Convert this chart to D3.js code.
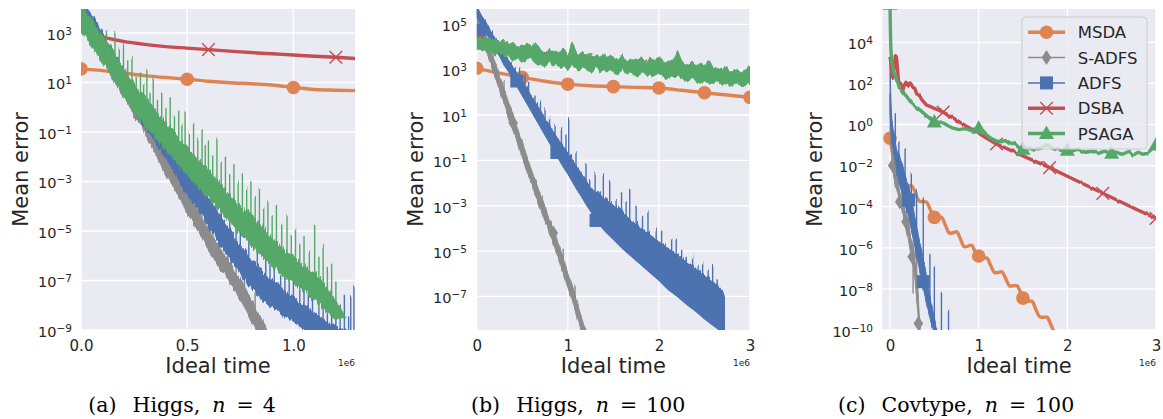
<!DOCTYPE html>
<html><head><meta charset="utf-8">
<script src="https://cdn.jsdelivr.net/npm/d3@7"></script>
<style>body{margin:0;background:#fff}svg{display:block}</style>
</head><body>
<svg id="chart" width="1163" height="419"></svg>
<script>
// ---------------- DATA (time in units of 1e6, error as log10) ----------------
const seriesNames = ["MSDA", "S-ADFS", "ADFS", "DSBA", "PSAGA"];

// ---- Panel (a) Higgs, n = 4 ----
const xTicksA = [0, 0.5, 1.0];
const xTickLabelsA = ["0.0", "0.5", "1.0"];
const yTickExpA = [3, 1, -1, -3, -5, -7, -9];
const msdaA = [[0,1.55],[0.1,1.48],[0.2,1.38],[0.3,1.28],[0.4,1.2],[0.5,1.13],[0.6,1.05],[0.7,0.99],[0.8,0.95],[0.9,0.9],[1.0,0.8],[1.1,0.72],[1.2,0.69],[1.29,0.67]];
const msdaMarksA = [[0,1.55],[0.5,1.13],[1.0,0.8]];
const dsbaA = [[0,3.3],[0.05,2.98],[0.1,2.84],[0.2,2.66],[0.3,2.54],[0.4,2.45],[0.5,2.39],[0.6,2.33],[0.7,2.27],[0.8,2.21],[0.9,2.16],[1.0,2.11],[1.1,2.06],[1.2,2.02],[1.29,1.97]];
const dsbaMarksA = [[0.6,2.33],[1.2,2.02]];
// noisy series: [time, low, high]
const sadfsA = [[0,3.5,4.3],[0.025,3.2,3.9],[0.05,2.8,3.5],[0.075,2.4,3.1],[0.1,1.9,2.8],[0.125,1.6,2.3],[0.15,1.1,2.0],[0.175,0.8,1.5],[0.2,0.4,1.3],[0.225,0.1,0.8],[0.25,-0.4,0.5],[0.275,-0.6,0.1],[0.3,-1.0,-0.1],[0.325,-1.5,-0.6],[0.35,-1.9,-1.0],[0.375,-2.3,-1.5],[0.4,-2.8,-1.9],[0.425,-3.0,-2.3],[0.45,-3.5,-2.6],[0.475,-3.8,-3.1],[0.5,-4.3,-3.4],[0.525,-4.6,-3.8],[0.55,-5.0,-4.1],[0.575,-5.3,-4.6],[0.6,-5.8,-4.9],[0.625,-6.1,-5.3],[0.65,-6.5,-5.6],[0.675,-6.7,-6.0],[0.7,-7.1,-6.2],[0.725,-7.4,-6.7],[0.75,-7.8,-6.9],[0.775,-8.2,-7.4],[0.8,-8.6,-7.7],[0.825,-9.0,-8.2],[0.85,-9.5,-8.5],[0.875,-9.9,-9.0]];
const sadfsSpikesA = [[0.21,1.6],[0.27,0.6],[0.33,-0.3],[0.39,-1.2],[0.44,-1.9],[0.48,-2.4],[0.52,-2.9],[0.57,-3.7],[0.61,-4.2],[0.65,-4.9],[0.69,-5.4],[0.73,-6.0],[0.77,-6.5],[0.82,-7.5]];
const sadfsMarksA = [[0.44,-3.0],[0.62,-5.6],[0.8,-8.1]];
const adfsA = [[0,3.6,4.4],[0.025,3.2,4.1],[0.05,2.9,3.7],[0.075,2.5,3.4],[0.1,2.1,3.0],[0.125,1.8,2.6],[0.15,1.4,2.3],[0.175,1.0,1.9],[0.2,0.6,1.5],[0.225,0.3,1.2],[0.25,-0.1,0.8],[0.275,-0.5,0.4],[0.3,-0.8,0.1],[0.325,-1.1,-0.3],[0.35,-1.4,-0.5],[0.375,-1.8,-0.9],[0.4,-2.1,-1.1],[0.425,-2.4,-1.5],[0.45,-2.8,-1.7],[0.475,-3.2,-2.1],[0.5,-3.5,-2.3],[0.525,-3.8,-2.8],[0.55,-4.1,-3.0],[0.575,-4.4,-3.4],[0.6,-4.8,-3.6],[0.625,-5.1,-4.0],[0.65,-5.5,-4.3],[0.675,-5.8,-4.6],[0.7,-6.1,-4.9],[0.725,-6.4,-5.3],[0.75,-6.7,-5.6],[0.775,-7.0,-5.8],[0.8,-7.3,-6.2],[0.825,-7.5,-6.3],[0.85,-7.8,-6.6],[0.875,-7.9,-6.8],[0.9,-8.1,-7.0],[0.925,-8.2,-7.1],[0.95,-8.4,-7.3],[0.975,-8.5,-7.6],[1.0,-8.7,-7.7],[1.025,-8.8,-7.9],[1.05,-9.0,-8.0],[1.075,-9.1,-8.2],[1.1,-9.2,-8.3],[1.125,-9.3,-8.5],[1.15,-9.4,-8.6],[1.175,-9.5,-8.8],[1.2,-9.6,-8.8],[1.225,-9.7,-9.0],[1.25,-9.7,-9.0],[1.275,-9.8,-9.1],[1.3,-9.8,-9.1]];
const adfsSpikesA = [[0.35,-0.1],[0.4,-0.6],[0.45,-1.2],[0.5,-1.7],[0.55,-2.4],[0.585,-2.6],[0.62,-3.3],[0.66,-3.6],[0.7,-4.2],[0.73,-4.4],[0.75,-4.8],[0.79,-5.0],[0.83,-5.6],[0.87,-5.9],[0.89,-6.3],[0.91,-6.1],[0.94,-6.7],[0.96,-6.4],[0.98,-7.0],[1.0,-6.6],[1.03,-7.3],[1.05,-6.9],[1.07,-7.6],[1.09,-7.2],[1.12,-7.9],[1.14,-7.4],[1.16,-8.2],[1.18,-7.9],[1.2,-8.3],[1.22,-8.0],[1.24,-7.5],[1.26,-8.4],[1.27,-7.6],[1.285,-7.3]];
const adfsMarksA = [[0.505,-2.9],[0.68,-5.4],[0.855,-7.3],[1.03,-8.3]];
const psagaA = [[0,3.1,4.2],[0.025,2.9,3.8],[0.05,2.5,3.6],[0.075,2.2,3.2],[0.1,1.8,2.9],[0.125,1.6,2.5],[0.15,1.1,2.3],[0.175,0.9,1.9],[0.2,0.4,1.6],[0.225,0.2,1.2],[0.25,-0.2,1.0],[0.275,-0.4,0.6],[0.3,-0.7,0.5],[0.325,-1.0,0.1],[0.35,-1.2,-0.1],[0.375,-1.5,-0.4],[0.4,-1.7,-0.6],[0.425,-2.0,-0.9],[0.45,-2.2,-1.1],[0.475,-2.5,-1.4],[0.5,-2.7,-1.6],[0.525,-3.0,-1.9],[0.55,-3.2,-2.1],[0.575,-3.5,-2.3],[0.6,-3.6,-2.5],[0.625,-3.9,-2.8],[0.65,-4.1,-3.0],[0.675,-4.4,-3.3],[0.7,-4.6,-3.5],[0.725,-4.9,-3.8],[0.75,-5.1,-4.0],[0.775,-5.3,-4.2],[0.8,-5.6,-4.3],[0.825,-5.8,-4.6],[0.85,-6.0,-4.8],[0.875,-6.2,-5.1],[0.9,-6.4,-5.3],[0.925,-6.6,-5.5],[0.95,-6.8,-5.7],[0.975,-7.0,-5.9],[1.0,-7.1,-6.0],[1.025,-7.3,-6.3],[1.05,-7.4,-6.4],[1.075,-7.6,-6.6],[1.1,-7.8,-6.7],[1.125,-8.0,-6.9],[1.15,-8.2,-7.2],[1.175,-8.4,-7.5],[1.2,-8.6,-7.8],[1.215,-8.5,-8.1]];
const psagaSpikesA = [[0.12,3.1],[0.14,2.6],[0.16,3.0],[0.18,2.3],[0.2,2.5],[0.22,1.9],[0.24,2.0],[0.26,1.3],[0.28,1.4],[0.295,1.0],[0.31,1.5],[0.325,0.6],[0.34,1.2],[0.36,0.3],[0.38,0.6],[0.4,0.0],[0.42,0.4],[0.44,-0.4],[0.46,-0.1],[0.475,-0.7],[0.49,-0.2],[0.51,-1.0],[0.53,-0.7],[0.55,-1.3],[0.57,-0.8],[0.585,-1.6],[0.6,-1.3],[0.62,-1.9],[0.64,-1.3],[0.66,-2.2],[0.68,-2.0],[0.7,-2.7],[0.72,-2.3],[0.74,-3.0],[0.76,-2.7],[0.78,-3.3],[0.8,-3.0],[0.82,-3.7],[0.84,-3.3],[0.86,-4.1],[0.88,-3.8],[0.9,-4.4],[0.92,-3.9],[0.945,-4.7],[0.97,-4.4],[0.99,-5.1],[1.01,-4.9],[1.03,-5.5],[1.05,-5.2],[1.075,-5.8],[1.1,-4.7],[1.12,-6.0],[1.14,-5.6],[1.16,-6.5],[1.18,-6.3],[1.2,-7.0]];
const psagaMarksA = [[0.6,-3.05],[1.215,-8.3]];

// ---- Panel (b) Higgs, n = 100 ----
const xTicksB = [0, 1, 2, 3];
const xTickLabelsB = ["0", "1", "2", "3"];
const yTickExpB = [5, 3, 1, -1, -3, -5, -7];
const msdaB = [[0,3.06],[0.25,2.85],[0.5,2.66],[0.75,2.49],[1.0,2.36],[1.25,2.29],[1.5,2.25],[1.75,2.22],[2.0,2.19],[2.25,2.09],[2.5,1.98],[2.75,1.88],[3.0,1.78]];
const msdaMarksB = [[0,3.06],[0.5,2.66],[1.0,2.36],[1.5,2.25],[2.0,2.19],[2.5,1.98],[3.0,1.78]];
const dsbaB = [[0,4.45],[0.3,4.1],[0.6,3.79],[0.9,3.6],[1.2,3.43],[1.5,3.29],[1.8,3.16],[2.1,3.04],[2.4,2.91],[2.7,2.77],[3.0,2.6]];
const dsbaMarksB = [[0.6,3.79],[1.2,3.43],[1.8,3.16],[2.4,2.91],[3.0,2.6]];
const sadfsB = [[0,5.1,5.8],[0.025,4.8,5.5],[0.05,4.6,5.2],[0.075,4.2,4.9],[0.1,3.9,4.5],[0.125,3.6,4.3],[0.15,3.3,3.9],[0.175,3.0,3.7],[0.2,2.7,3.3],[0.225,2.4,3.1],[0.25,2.1,2.7],[0.275,1.8,2.5],[0.3,1.5,2.1],[0.325,1.2,1.9],[0.35,0.9,1.6],[0.375,0.6,1.3],[0.4,0.3,1.0],[0.425,0.0,0.6],[0.45,-0.3,0.4],[0.475,-0.6,0.0],[0.5,-0.9,-0.2],[0.525,-1.2,-0.5],[0.55,-1.5,-0.8],[0.575,-1.7,-1.1],[0.6,-2.0,-1.4],[0.625,-2.3,-1.7],[0.65,-2.6,-1.9],[0.675,-2.9,-2.2],[0.7,-3.1,-2.5],[0.725,-3.4,-2.8],[0.75,-3.7,-3.0],[0.775,-3.9,-3.3],[0.8,-4.2,-3.6],[0.825,-4.5,-3.8],[0.85,-4.8,-4.1],[0.875,-5.1,-4.4],[0.9,-5.3,-4.7],[0.925,-5.7,-5.0],[0.95,-6.0,-5.3],[0.975,-6.3,-5.6],[1.0,-6.6,-6.0],[1.025,-6.9,-6.2],[1.05,-7.2,-6.6],[1.075,-7.6,-6.9],[1.1,-7.9,-7.2],[1.125,-8.2,-7.6],[1.15,-8.5,-7.9],[1.175,-8.8,-8.2],[1.2,-9.1,-8.5],[1.225,-9.4,-8.8]];
const sadfsSpikesB = [[0.3,2.5],[0.55,-0.9],[0.72,-2.5],[0.95,-4.9],[1.08,-6.5]];
const sadfsMarksB = [[0.4,0.65],[0.84,-4.2]];
const adfsB = [[0,5.3,5.8],[0.05,5.0,5.4],[0.1,4.6,5.1],[0.15,4.3,4.7],[0.2,3.9,4.4],[0.25,3.6,4.0],[0.3,3.2,3.7],[0.35,2.9,3.4],[0.4,2.55,3.1],[0.45,2.2,2.8],[0.5,1.85,2.5],[0.55,1.5,2.2],[0.6,1.15,1.8],[0.65,0.8,1.5],[0.7,0.45,1.2],[0.75,0.1,0.8],[0.8,-0.25,0.5],[0.85,-0.6,0.2],[0.9,-0.95,-0.1],[0.95,-1.3,-0.4],[1.0,-1.6,-0.7],[1.05,-1.95,-1.0],[1.1,-2.3,-1.3],[1.15,-2.6,-1.6],[1.2,-2.95,-1.9],[1.25,-3.25,-2.2],[1.3,-3.6,-2.4],[1.35,-3.85,-2.5],[1.4,-4.1,-2.7],[1.5,-4.5,-3.0],[1.6,-4.9,-3.3],[1.7,-5.25,-3.7],[1.8,-5.6,-4.0],[1.9,-5.95,-4.3],[2.0,-6.3,-4.6],[2.1,-6.7,-4.9],[2.2,-7.0,-5.2],[2.3,-7.35,-5.5],[2.4,-7.65,-5.8],[2.5,-8.0,-6.1],[2.6,-8.3,-6.4],[2.7,-8.6,-6.8],[2.72,-8.65,-7.0]];
const adfsSpikesB = [[0.47,3.1],[0.53,2.8],[0.57,2.5],[0.64,1.9],[0.7,1.6],[0.75,1.3],[0.8,0.9],[0.86,0.6],[0.93,0.5],[0.98,0.1],[1.01,0.9],[1.04,-0.77],[1.09,-0.6],[1.15,-1.7],[1.2,-1.2],[1.24,-1.87],[1.3,-1.5],[1.39,-1.57],[1.46,-1.87],[1.53,-2.75],[1.59,-2.45],[1.64,-2.8],[1.68,-2.3],[1.75,-3.05],[1.82,-3.4],[1.88,-3.3],[1.97,-4.0],[2.03,-4.1],[2.08,-4.73],[2.14,-4.4],[2.19,-4.5],[2.25,-4.9],[2.3,-5.25],[2.37,-5.25],[2.43,-5.6],[2.48,-5.54],[2.54,-5.9],[2.59,-5.7],[2.64,-6.3],[2.68,-6.7],[2.71,-6.9]];
const adfsMarksB = [[0.03,4.75],[0.44,2.5],[0.88,-0.65],[1.31,-3.65],[1.75,-4.6],[2.19,-6.0],[2.63,-7.3]];
const psagaB = [[0,3.9,4.5],[0.05,3.9,4.4],[0.1,3.8,4.4],[0.15,3.8,4.3],[0.2,3.7,4.4],[0.25,3.7,4.2],[0.3,3.6,4.3],[0.35,3.6,4.1],[0.4,3.4,4.2],[0.45,3.5,4.0],[0.5,3.3,4.1],[0.55,3.4,4.1],[0.6,3.4,3.9],[0.65,3.3,4.2],[0.7,3.2,3.9],[0.75,3.2,3.8],[0.8,3.3,3.9],[0.85,3.1,3.7],[0.9,3.2,3.8],[0.95,3.1,3.9],[1.0,3.0,3.7],[1.05,3.2,4.2],[1.1,3.0,3.7],[1.15,3.1,3.8],[1.2,3.0,3.6],[1.25,2.9,3.7],[1.3,3.1,3.6],[1.35,2.9,3.6],[1.4,3.0,3.7],[1.45,2.9,3.5],[1.5,2.9,3.6],[1.55,2.8,3.5],[1.6,3.0,3.6],[1.65,2.8,3.4],[1.7,2.9,3.5],[1.75,2.7,3.4],[1.8,2.8,3.5],[1.85,2.8,3.3],[1.9,2.8,3.6],[1.95,2.7,3.4],[2.0,2.8,3.5],[2.05,2.7,3.3],[2.1,2.6,3.4],[2.15,2.7,3.3],[2.2,2.7,3.8],[2.25,2.6,3.3],[2.3,2.5,3.2],[2.35,2.6,3.3],[2.4,2.5,3.1],[2.45,2.4,3.3],[2.5,2.5,3.2],[2.55,2.4,3.4],[2.6,2.4,3.0],[2.65,2.5,3.1],[2.7,2.3,3.0],[2.75,2.4,3.1],[2.8,2.3,2.9],[2.85,2.4,3.0],[2.9,2.3,2.9],[2.95,2.3,3.0],[3.0,2.35,3.1]];
const psagaSpikesB = [];
const psagaMarksB = [];

// ---- Panel (c) Covtype, n = 100 ----
const xTicksC = [0, 1, 2, 3];
const xTickLabelsC = ["0", "1", "2", "3"];
const yTickExpC = [4, 2, 0, -2, -4, -6, -8, -10];
const msdaC = [[0,-0.67],[0.02,-1.2],[0.04,-1.75],[0.056,-2.05],[0.08,-2.3],[0.11,-2.5],[0.15,-2.78],[0.2,-3.0],[0.2425,-2.98],[0.285,-3.3],[0.3275,-3.72],[0.37,-3.75],[0.4125,-3.78],[0.455,-4.15],[0.4975,-4.52],[0.54,-4.53],[0.5825,-4.52],[0.625,-4.9],[0.6675,-5.28],[0.71,-5.27],[0.7525,-5.22],[0.795,-5.58],[0.8375,-5.95],[0.88,-5.92],[0.9225,-5.88],[0.965,-6.25],[1.0075,-6.45],[1.05,-6.5],[1.0925,-6.5],[1.135,-6.85],[1.1775,-7.2],[1.22,-7.2],[1.2625,-7.17],[1.305,-7.5],[1.3475,-7.85],[1.39,-7.85],[1.4325,-7.85],[1.475,-8.2],[1.5175,-8.55],[1.56,-8.6],[1.6025,-8.6],[1.645,-9.0],[1.6875,-9.35],[1.73,-9.38],[1.7725,-9.38],[1.815,-9.75],[1.8575,-10.1],[1.9,-10.15],[1.95,-10.4]];
const msdaMarksC = [[0,-0.67],[0.5,-4.52],[1.0,-6.4],[1.5,-8.45]];
const sadfsC = [[0,-0.5,1.5],[0.015,-1.3,-0.4],[0.03,-2.3,-1.6],[0.045,-2.6,-1.9],[0.06,-3.0,-2.1],[0.075,-3.1,-2.4],[0.09,-3.4,-2.8],[0.11,-4.0,-3.3],[0.13,-4.1,-3.5],[0.15,-4.5,-3.8],[0.17,-4.8,-4.1],[0.185,-5.2,-4.3],[0.2,-5.4,-4.8],[0.215,-5.8,-4.9],[0.23,-6.2,-5.5],[0.25,-6.7,-5.7],[0.265,-7.0,-5.9],[0.28,-7.6,-6.6],[0.295,-8.2,-7.0],[0.31,-8.9,-7.6],[0.32,-9.5,-8.5],[0.33,-10.2,-9.2],[0.34,-10.6,-9.8]];
const sadfsSpikesC = [[0.05,-1.4],[0.14,-2.9],[0.26,-8.3],[0.3,-6.2]];
const sadfsMarksC = [[0.03,-2.0],[0.11,-3.76],[0.18,-4.73],[0.25,-6.43],[0.32,-9.68]];
const adfsC = [[0,0.5,3.0],[0.01,-0.2,1.2],[0.02,-0.8,0.3],[0.035,-1.2,-0.2],[0.05,-1.6,-0.6],[0.065,-2.0,-0.9],[0.08,-2.4,-1.3],[0.1,-2.8,-1.4],[0.12,-3.1,-1.8],[0.14,-3.4,-1.9],[0.16,-3.7,-2.3],[0.18,-4.1,-2.6],[0.2,-4.3,-2.9],[0.22,-4.7,-3.2],[0.24,-5.1,-3.6],[0.26,-5.5,-4.0],[0.28,-6.0,-4.5],[0.3,-6.4,-4.9],[0.32,-6.8,-5.4],[0.34,-7.3,-5.8],[0.36,-7.7,-6.2],[0.38,-8.1,-6.7],[0.4,-8.5,-7.1],[0.42,-8.9,-7.6],[0.44,-9.2,-8.1],[0.46,-9.6,-8.6],[0.48,-9.9,-9.0],[0.5,-10.2,-9.4],[0.52,-10.5,-9.8],[0.54,-10.8,-10.1]];
const adfsSpikesC = [[0.06,0.5],[0.1,-0.8],[0.17,-1.24],[0.24,-2.3],[0.3,-3.2],[0.375,-3.6],[0.45,-6.3],[0.5,-6.9],[0.58,-8.2],[0.66,-9.0]];
const adfsMarksC = [[0.21,-3.67],[0.375,-7.65]];
const dsbaC = [[0,3.3],[0.015,2.9],[0.03,2.3],[0.045,2.7],[0.06,3.35],[0.075,3.2],[0.09,2.4],[0.105,1.8],[0.12,2.0],[0.14,1.6],[0.16,1.9],[0.18,2.05],[0.2,1.9],[0.22,2.05],[0.24,1.95],[0.26,1.8],[0.28,1.75],[0.3,1.5],[0.32,1.45],[0.34,1.35],[0.36,1.2],[0.38,1.1],[0.41,0.95],[0.45,0.88],[0.5,0.78],[0.55,0.7],[0.6,0.6],[0.7,0.35],[0.8,0.08],[0.9,-0.18],[1.0,-0.43],[1.1,-0.69],[1.2,-0.95],[1.4,-1.33],[1.6,-1.72],[1.8,-2.1],[2.0,-2.52],[2.2,-2.93],[2.4,-3.35],[2.6,-3.76],[2.8,-4.17],[3.0,-4.57]];
const dsbaMarksC = [[0.6,0.6],[1.2,-0.95],[1.8,-2.1],[2.4,-3.35],[3.0,-4.57]];
const psagaC = [[0,5.85],[0.005,4.5],[0.01,3.6],[0.02,3.1],[0.04,2.6],[0.075,2.16],[0.1,1.9],[0.15,1.55],[0.19,1.35],[0.25,1.0],[0.34,0.7],[0.42,0.4],[0.49,0.14],[0.55,0.05],[0.6,0.08],[0.65,-0.05],[0.71,-0.18],[0.78,-0.25],[0.85,-0.2],[0.92,-0.3],[1.0,-0.18],[1.05,-0.3],[1.1,-0.55],[1.15,-0.7],[1.2,-0.8],[1.25,-0.84],[1.3,-0.78],[1.35,-0.95],[1.4,-0.9],[1.47,-1.2],[1.55,-1.1],[1.62,-1.24],[1.7,-1.15],[1.78,-1.0],[1.85,-1.2],[1.92,-1.25],[1.99,-1.24],[2.05,-1.3],[2.12,-1.2],[2.2,-1.35],[2.28,-1.3],[2.35,-1.4],[2.42,-1.3],[2.48,-1.4],[2.55,-1.35],[2.62,-1.45],[2.7,-1.3],[2.74,-1.48],[2.8,-1.35],[2.85,-1.45],[2.9,-1.4],[2.95,-1.2],[2.97,-1.08],[3.0,-1.0]];
const psagaMarksC = [[0,5.85],[0.5,0.12],[1.0,-0.18],[1.5,-1.2],[2.0,-1.25],[2.5,-1.4],[3.0,-1.0]];

const captionsLetter = ["(a)", "(b)", "(c)"];
const captionsName = ["Higgs,", "Higgs,", "Covtype,"];
const captionsN = ["4", "100", "100"];

// ---------------- RENDERING ----------------
const COL = { MSDA: "#DD8452", "S-ADFS": "#8C8C8C", ADFS: "#4C72B0", DSBA: "#C44E52", PSAGA: "#55A868" };
const MARK = { MSDA: "circle", "S-ADFS": "diamond", ADFS: "square", DSBA: "x", PSAGA: "triangle" };
const TXT = "#262626";
const FONT = "DejaVu Sans, Liberation Sans, sans-serif";

const panels = [
  { L: 81, R: 355, T: 9, B: 330, xd: [0, 1.29], yd: [-9, 3.97], xt: xTicksA, xl: xTickLabelsA, yt: yTickExpA, ylabX: 28, tickR: 72, capX: 88.3,
    msda: msdaA, msdaM: msdaMarksA, sadfs: sadfsA, sadfsS: sadfsSpikesA, sadfsM: sadfsMarksA, adfs: adfsA, adfsS: adfsSpikesA, adfsM: adfsMarksA,
    dsba: dsbaA, dsbaM: dsbaMarksA, dsbaCurve: "mono", psagaBand: psagaA, psagaS: psagaSpikesA, psagaM: psagaMarksA,
    nz: { sadfs: [0.55, 8], adfs: [0.55, 10], psaga: [0.6, 11] } },
  { L: 476.7, R: 750, T: 9, B: 330, xd: [0, 3], yd: [-8.48, 5.675], xt: xTicksB, xl: xTickLabelsB, yt: yTickExpB, ylabX: 423, tickR: 467, capX: 471,
    msda: msdaB, msdaM: msdaMarksB, sadfs: sadfsB, sadfsS: sadfsSpikesB, sadfsM: sadfsMarksB, adfs: adfsB, adfsS: adfsSpikesB, adfsM: adfsMarksB,
    dsba: dsbaB, dsbaM: dsbaMarksB, dsbaCurve: "mono", psagaBand: psagaB, psagaS: psagaSpikesB, psagaM: psagaMarksB, fringe: true,
    nz: { sadfs: [0.5, 7], adfs: [0.6, 12], psaga: [0.22, 9] } },
  { L: 882.3, R: 1156, T: 9, B: 330, xd: [-0.087, 3], yd: [-10, 5.62], xt: xTicksC, xl: xTickLabelsC, yt: yTickExpC, ylabX: 821.5, tickR: 873, capX: 838,
    msda: msdaC, msdaM: msdaMarksC, msdaCurve: "catmull", sadfs: sadfsC, sadfsS: sadfsSpikesC, sadfsM: sadfsMarksC, adfs: adfsC, adfsS: adfsSpikesC, adfsM: adfsMarksC,
    dsba: dsbaC, dsbaM: dsbaMarksC, dsbaCurve: "linear", psagaLine: psagaC, psagaM: psagaMarksC, legend: true,
    nz: { sadfs: [0.5, 7], adfs: [0.55, 8], psaga: [0.2, 3], dsba: [0.25, 3] } }
];

const svg = d3.select("#chart");
const defs = svg.append("defs");
let seedN = 1;
function noiseFilter(freqX, scale) {
  const id = "nz" + (seedN++);
  const f = defs.append("filter").attr("id", id).attr("filterUnits", "userSpaceOnUse")
    .attr("x", 0).attr("y", 0).attr("width", 1163).attr("height", 419).attr("color-interpolation-filters", "sRGB");
  f.append("feTurbulence").attr("type", "fractalNoise").attr("baseFrequency", `${freqX} 0.012`).attr("numOctaves", 2).attr("seed", seedN * 7).attr("result", "t");
  f.append("feColorMatrix").attr("in", "t").attr("type", "matrix")
    .attr("values", "0 0 0 0 0.5  0 1 0 0 0  0 0 1 0 0  0 0 0 0 1").attr("result", "m");
  f.append("feDisplacementMap").attr("in", "SourceGraphic").attr("in2", "m").attr("scale", scale)
    .attr("xChannelSelector", "R").attr("yChannelSelector", "G");
  return `url(#${id})`;
}

function drawMarker(g, type, cx, cy, color, s) {
  s = s || 1;
  if (type === "circle") g.append("circle").attr("cx", cx).attr("cy", cy).attr("r", 6.8 * s).attr("fill", color);
  else if (type === "square") g.append("rect").attr("x", cx - 6.5 * s).attr("y", cy - 6.5 * s).attr("width", 13 * s).attr("height", 13 * s).attr("fill", color);
  else if (type === "diamond") g.append("path").attr("d", `M${cx},${cy - 7.5 * s}L${cx + 4.8 * s},${cy}L${cx},${cy + 7.5 * s}L${cx - 4.8 * s},${cy}Z`).attr("fill", color);
  else if (type === "triangle") g.append("path").attr("d", `M${cx},${cy - 8 * s}L${cx + 7.5 * s},${cy + 5.5 * s}L${cx - 7.5 * s},${cy + 5.5 * s}Z`).attr("fill", color);
  else if (type === "x") {
    const a = 6.3 * s;
    g.append("path").attr("d", `M${cx - a},${cy - a}L${cx + a},${cy + a}M${cx - a},${cy + a}L${cx + a},${cy - a}`)
      .attr("stroke", color).attr("stroke-width", 1.4).attr("fill", "none");
  }
}

panels.forEach((p, i) => {
  const g = svg.append("g");
  const x = d3.scaleLinear().domain(p.xd).range([p.L, p.R]);
  const y = d3.scaleLog().domain([Math.pow(10, p.yd[0]), Math.pow(10, p.yd[1])]).range([p.B, p.T]);
  const X = t => x(t), Y = v => y(Math.pow(10, v));

  g.append("rect").attr("x", p.L).attr("y", p.T).attr("width", p.R - p.L).attr("height", p.B - p.T).attr("fill", "#EAEAF2");
  p.xt.forEach(t => g.append("line").attr("x1", X(t)).attr("x2", X(t)).attr("y1", p.T).attr("y2", p.B).attr("stroke", "#fff").attr("stroke-width", 1.3));
  p.yt.forEach(e => g.append("line").attr("x1", p.L).attr("x2", p.R).attr("y1", Y(e)).attr("y2", Y(e)).attr("stroke", "#fff").attr("stroke-width", 1.3));

  // axes
  const ax = d3.axisBottom(x).tickValues(p.xt).tickSize(0).tickFormat((d, k) => p.xl[k]);
  const axg = g.append("g").attr("transform", `translate(0,${p.B})`).call(ax);
  axg.select(".domain").remove();
  axg.attr("font-family", null).attr("font-size", null);
  axg.selectAll("text").attr("y", 21).attr("dy", null).attr("fill", TXT)
    .attr("font-family", FONT).attr("font-size", 15);

  const ay = d3.axisLeft(y).tickValues(p.yt.map(e => Math.pow(10, e))).tickSize(0).tickFormat("");
  const ayg = g.append("g").attr("transform", `translate(${p.L},0)`).call(ay);
  ayg.select(".domain").remove();
  ayg.attr("font-family", null).attr("font-size", null);
  ayg.selectAll("text").each(function (d, k) {
    const e = p.yt[k];
    const t = d3.select(this).attr("x", p.tickR - p.L).attr("y", 6.3).attr("dy", null)
      .attr("fill", TXT).attr("font-family", FONT).attr("font-size", 14.5).attr("text-anchor", "end");
    t.append("tspan").text("10");
    t.append("tspan").attr("dy", -5.2).attr("font-size", 10.5).text(e < 0 ? "\u2212" + (-e) : String(e));
  });

  // axis labels
  g.append("text").attr("x", (p.L + p.R) / 2).attr("y", 373).attr("text-anchor", "middle")
    .attr("font-family", FONT).attr("font-size", 21).attr("fill", TXT).text("Ideal time");
  g.append("text").attr("x", p.R).attr("y", 365.5).attr("text-anchor", "end")
    .attr("font-family", FONT).attr("font-size", 9).attr("fill", TXT).text("1e6");
  g.append("text").attr("transform", `translate(${p.ylabX},${(p.T + p.B) / 2}) rotate(-90)`).attr("text-anchor", "middle")
    .attr("font-family", FONT).attr("font-size", 21).attr("fill", TXT).text("Mean error");

  // caption
  const cap = g.append("text").attr("x", p.capX).attr("y", 412).attr("font-family", "DejaVu Serif, Liberation Serif, serif")
    .attr("font-size", 20.5).attr("fill", "#000");
  cap.append("tspan").text(captionsLetter[i]);
  cap.append("tspan").attr("dx", 16).text(captionsName[i]);
  cap.append("tspan").attr("dx", 12).attr("font-style", "italic").text("n");
  cap.append("tspan").attr("dx", 11).text("=");
  cap.append("tspan").attr("dx", 9).text(captionsN[i]);

  // clip
  const cid = "clip" + i;
  defs.append("clipPath").attr("id", cid).append("rect").attr("x", p.L).attr("y", p.T).attr("width", p.R - p.L).attr("height", p.B - p.T);
  const pg = g.append("g").attr("clip-path", `url(#${cid})`);

  const lineGen = curve => d3.line().x(d => X(d[0])).y(d => Y(d[1])).curve(curve);
  const curveOf = c => c === "linear" ? d3.curveLinear : c === "catmull" ? d3.curveCatmullRom.alpha(0.5) : d3.curveMonotoneX;
  const bandGen = d3.area().x(d => X(d[0])).y0(d => Y(d[1])).y1(d => Y(d[2])).curve(d3.curveLinear);
  const bis = d3.bisector(d => d[0]);

  function band(rows, spikes, color, nz, fringe) {
    const bg = pg.append("g");
    if (!fringe && nz) bg.attr("filter", noiseFilter(nz[0], nz[1]));
    bg.append("path").datum(rows).attr("d", bandGen).attr("fill", color).attr("stroke", color).attr("stroke-width", 1);
    const sg = fringe ? pg.append("g").attr("filter", noiseFilter(nz[0], nz[1])) : bg;
    if (fringe) {
      const fr = d3.area().x(d => X(d[0])).y0(d => Y(d[2]) + 9).y1(d => Y(d[2]) - 1);
      sg.append("path").datum(rows).attr("d", fr).attr("fill", color);
    }
    (spikes || []).forEach(s => {
      const r = rows[Math.min(rows.length - 1, bis.center(rows, s[0]))];
      const base = (r[1] + r[2]) / 2;
      sg.append("line").attr("x1", X(s[0])).attr("x2", X(s[0])).attr("y1", Y(base)).attr("y2", Y(s[1]))
        .attr("stroke", color).attr("stroke-width", 1.4);
    });
  }
  function marks(list, name) {
    (list || []).forEach(m => drawMarker(pg, MARK[name], X(m[0]), Y(m[1]), COL[name]));
  }

  // MSDA
  pg.append("path").datum(p.msda).attr("d", lineGen(curveOf(p.msdaCurve))).attr("fill", "none").attr("stroke", COL.MSDA).attr("stroke-width", 3.4).attr("stroke-linejoin", "round");
  marks(p.msdaM, "MSDA");
  // S-ADFS
  band(p.sadfs, p.sadfsS, COL["S-ADFS"], p.nz.sadfs);
  marks(p.sadfsM, "S-ADFS");
  // ADFS
  band(p.adfs, p.adfsS, COL.ADFS, p.nz.adfs, p.fringe);
  marks(p.adfsM, "ADFS");
  // DSBA
  const dp = pg.append("path").datum(p.dsba).attr("d", lineGen(curveOf(p.dsbaCurve))).attr("fill", "none").attr("stroke", COL.DSBA).attr("stroke-width", 3.4).attr("stroke-linejoin", "round");
  if (p.nz.dsba) dp.attr("filter", noiseFilter(p.nz.dsba[0], p.nz.dsba[1]));
  marks(p.dsbaM, "DSBA");
  // PSAGA
  if (p.psagaBand) band(p.psagaBand, p.psagaS, COL.PSAGA, p.nz.psaga);
  if (p.psagaLine) pg.append("path").datum(p.psagaLine).attr("d", lineGen(d3.curveLinear)).attr("fill", "none").attr("stroke", COL.PSAGA).attr("stroke-width", 3.4).attr("stroke-linejoin", "round")
    .attr("filter", noiseFilter(p.nz.psaga[0], p.nz.psaga[1]));
  marks(p.psagaM, "PSAGA");

  if (p.legend) {
    const lg = g.append("g");
    lg.append("rect").attr("x", 1022).attr("y", 17).attr("width", 125).attr("height", 132).attr("rx", 4)
      .attr("fill", "#EAEAF2").attr("fill-opacity", 0.8).attr("stroke", "#cccccc").attr("stroke-width", 1);
    const widths = { MSDA: 3.4, "S-ADFS": 1.5, ADFS: 1.5, DSBA: 3.4, PSAGA: 3.4 };
    seriesNames.forEach((nm, k) => {
      const yy = 32.3 + k * 25.3;
      lg.append("line").attr("x1", 1028).attr("x2", 1065).attr("y1", yy).attr("y2", yy).attr("stroke", COL[nm]).attr("stroke-width", widths[nm]);
      drawMarker(lg, MARK[nm], 1046.5, yy, COL[nm]);
      lg.append("text").attr("x", 1077.7).attr("y", yy + 6).attr("font-family", FONT).attr("font-size", 16.5).attr("fill", TXT).text(nm);
    });
  }
});
</script>
</body></html>
